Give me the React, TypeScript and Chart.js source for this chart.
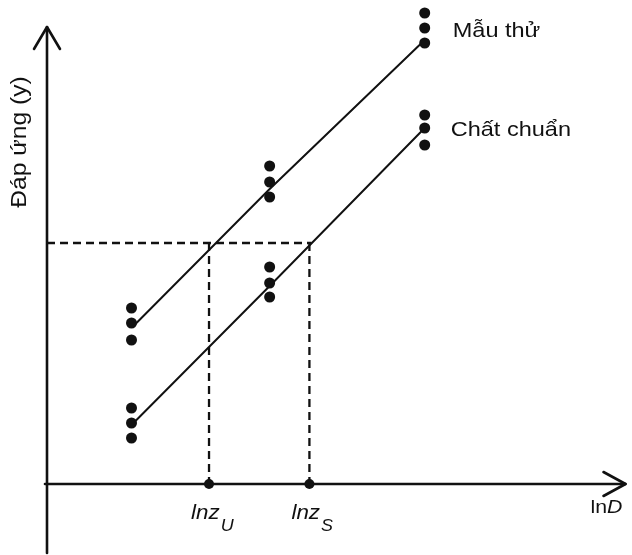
import React, { useEffect, useRef } from "react";
import { Chart, registerables } from "chart.js";

Chart.register(...registerables);

// Dose levels (ln D) where replicates were measured
const groupX = [0.85, 2.24, 3.8];
// Test sample replicates ("Mẫu thử")
const sampleLow = [1.44, 2.87, 4.41];
const sampleMid = [1.61, 3.02, 4.56];
const sampleHigh = [1.76, 3.18, 4.71];
// Standard replicates ("Chất chuẩn")
const standardLow = [0.46, 1.87, 3.39];
const standardMid = [0.61, 2.01, 3.56];
const standardHigh = [0.76, 2.17, 3.69];
// Fitted lines
const sampleFitX = [0.86, 2.23, 3.8];
const sampleFitY = [1.57, 2.94, 4.44];
const standardFitX = [0.88, 2.25, 3.78];
const standardFitY = [0.62, 1.99, 3.54];
// Common response level and the two log-doses
const responseLevel = 2.41;
const lnzU = 1.63;
const lnzS = 2.64;

const seriesNames = ["Mẫu thử", "Chất chuẩn"];
const yTitle = "Đáp ứng (y)";
const xTitle = ["ln", "D"];
const markLabels = [
  ["lnz", "U"],
  ["lnz", "S"],
];

const FONT = '"Liberation Sans", Arial, Helvetica, sans-serif';
const INK = "#111";
const STRETCH = 1.12;

function pts(xs: number[], ys: number[]) {
  return xs.map((x, i) => ({ x, y: ys[i] }));
}

function stretchedText(
  ctx: CanvasRenderingContext2D,
  text: string,
  x: number,
  y: number,
  font: string,
  align: CanvasTextAlign = "left"
) {
  ctx.save();
  ctx.font = font;
  ctx.textAlign = align;
  ctx.textBaseline = "alphabetic";
  ctx.translate(x, y);
  ctx.scale(STRETCH, 1);
  ctx.fillText(text, 0, 0);
  const w = ctx.measureText(text).width * STRETCH;
  ctx.restore();
  return w;
}

const decorPlugin = {
  id: "decor",
  beforeDatasetsDraw(chart: any) {
    const ctx: CanvasRenderingContext2D = chart.ctx;
    const xs = chart.scales.x;
    const ys = chart.scales.y;
    const x0 = xs.getPixelForValue(0);
    const y0 = ys.getPixelForValue(0);
    ctx.save();
    ctx.strokeStyle = INK;
    ctx.lineWidth = 2.6;
    ctx.lineCap = "round";
    ctx.lineJoin = "round";
    // y axis
    ctx.beginPath();
    ctx.moveTo(x0, chart.height - 2);
    ctx.lineTo(x0, ys.top + 17);
    ctx.stroke();
    ctx.beginPath();
    ctx.moveTo(x0 - 13, ys.top + 39);
    ctx.lineTo(x0, ys.top + 17);
    ctx.lineTo(x0 + 13, ys.top + 39);
    ctx.stroke();
    // x axis
    ctx.beginPath();
    ctx.moveTo(x0 - 2, y0);
    ctx.lineTo(xs.right - 1, y0);
    ctx.stroke();
    ctx.beginPath();
    ctx.moveTo(xs.right - 23, y0 - 12);
    ctx.lineTo(xs.right - 1, y0);
    ctx.lineTo(xs.right - 23, y0 + 12);
    ctx.stroke();
    ctx.restore();
  },
  afterDatasetsDraw(chart: any) {
    const ctx: CanvasRenderingContext2D = chart.ctx;
    const xs = chart.scales.x;
    const ys = chart.scales.y;
    const y0 = ys.getPixelForValue(0);
    ctx.save();
    ctx.fillStyle = INK;
    // series labels next to the top replicate groups
    const lx = xs.getPixelForValue(groupX[2]) + 28;
    stretchedText(ctx, seriesNames[0], lx, ys.getPixelForValue(sampleMid[2]) + 9, `21px ${FONT}`);
    stretchedText(ctx, seriesNames[1], lx - 2, ys.getPixelForValue(standardMid[2]) + 8, `21px ${FONT}`);
    // y title
    ctx.save();
    ctx.translate(20, 142);
    ctx.rotate(-Math.PI / 2);
    ctx.scale(STRETCH, 1);
    ctx.font = `22px ${FONT}`;
    ctx.textAlign = "center";
    ctx.textBaseline = "middle";
    ctx.fillText(yTitle, 0, 0);
    ctx.restore();
    // lnz labels
    const marks = [lnzU, lnzS];
    marks.forEach((v, i) => {
      const px = xs.getPixelForValue(v) - 18;
      const w = stretchedText(ctx, markLabels[i][0], px, y0 + 35, `italic 20px ${FONT}`);
      stretchedText(ctx, markLabels[i][1], px + w + 1, y0 + 47, `italic 16px ${FONT}`);
    });
    // x title
    const tx = xs.right - 36;
    const w1 = stretchedText(ctx, xTitle[0], tx, y0 + 29, `19px ${FONT}`);
    stretchedText(ctx, xTitle[1], tx + w1, y0 + 29, `italic 19px ${FONT}`);
    ctx.restore();
  },
};

export default function App() {
  const ref = useRef<HTMLCanvasElement | null>(null);
  useEffect(() => {
    if (!ref.current) return;
    const dot = {
      showLine: false,
      pointRadius: 5.5,
      pointBackgroundColor: INK,
      pointBorderColor: INK,
      pointBorderWidth: 0,
      clip: false as any,
    };
    const solid = {
      showLine: true,
      pointRadius: 0,
      borderColor: INK,
      borderWidth: 2,
      tension: 0,
      clip: false as any,
    };
    const dashed = { ...solid, borderWidth: 2.3, borderDash: [8, 5] };
    const chart = new Chart(ref.current, {
      type: "scatter",
      data: {
        datasets: [
          { ...dashed, data: [{ x: 0, y: responseLevel }, { x: lnzS + 0.02, y: responseLevel }] },
          { ...dashed, data: [{ x: lnzU, y: responseLevel }, { x: lnzU, y: 0 }] },
          { ...dashed, data: [{ x: lnzS, y: responseLevel }, { x: lnzS, y: 0 }] },
          { ...solid, data: pts(sampleFitX, sampleFitY) },
          { ...solid, data: pts(standardFitX, standardFitY) },
          { ...dot, data: pts(groupX, sampleLow) },
          { ...dot, data: pts(groupX, sampleMid) },
          { ...dot, data: pts(groupX, sampleHigh) },
          { ...dot, data: pts(groupX, standardLow) },
          { ...dot, data: pts(groupX, standardMid) },
          { ...dot, data: pts(groupX, standardHigh) },
          { ...dot, pointRadius: 5, data: [{ x: lnzU, y: 0 }, { x: lnzS, y: 0 }] },
        ] as any,
      },
      options: {
        animation: false,
        responsive: false,
        events: [],
        layout: { padding: { left: 47, right: 2, top: 10, bottom: 71 } },
        plugins: { legend: { display: false }, tooltip: { enabled: false } },
        scales: {
          x: { type: "linear", min: 0, max: 5.83, display: false },
          y: { type: "linear", min: 0, max: 4.74, display: false },
        },
      },
      plugins: [decorPlugin],
    });
    return () => chart.destroy();
  }, []);
  return (
    <div style={{ position: "fixed", left: 0, top: 0, width: 632, height: 555, background: "#fff" }}>
      <canvas ref={ref} width={632} height={555} style={{ display: "block" }} />
    </div>
  );
}
